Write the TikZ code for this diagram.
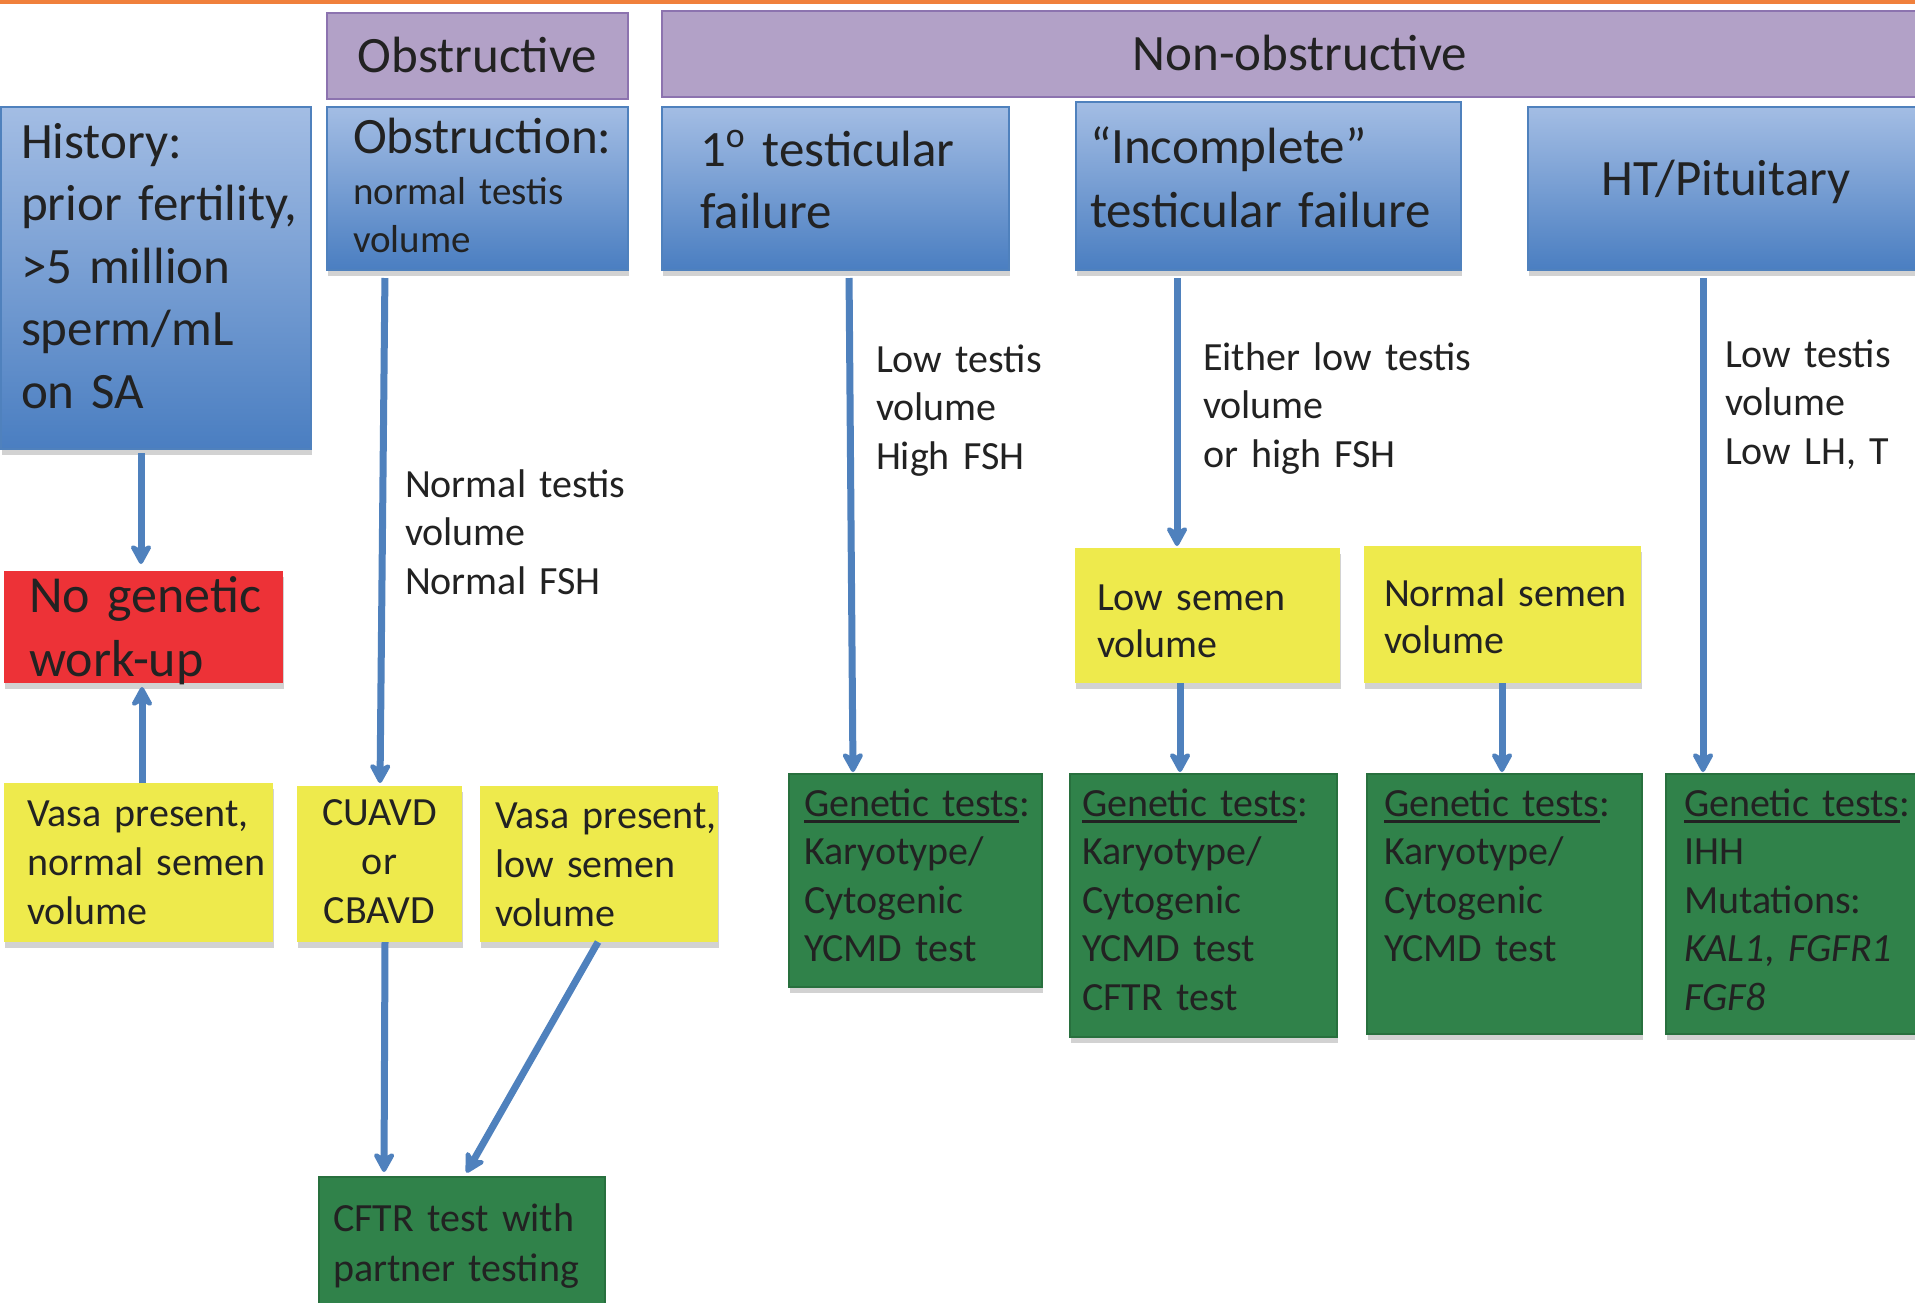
\documentclass[tikz,border=0pt]{standalone}
\usepackage{fontspec}
\setmainfont{Carlito}
\usetikzlibrary{arrows.meta,shadows,calc}
\definecolor{tcol}{RGB}{34,34,34}
\definecolor{purfill}{RGB}{178,161,199}
\definecolor{purdraw}{RGB}{140,115,175}
\definecolor{bluetop}{RGB}{163,189,228}
\definecolor{bluebot}{RGB}{74,126,193}
\definecolor{bluedraw}{RGB}{79,129,189}
\definecolor{yelfill}{RGB}{238,234,76}
\definecolor{redfill}{RGB}{237,50,55}
\definecolor{grnfill}{RGB}{48,130,74}
\definecolor{grndraw}{RGB}{40,112,62}
\definecolor{arrcol}{RGB}{79,129,189}
\definecolor{orangec}{RGB}{240,128,60}
\newcommand\gtul[1]{\setbox0\hbox{#1}\rlap{\rule[-3.5pt]{\wd0}{1.4pt}}\box0}
\tikzset{
  bx/.style={rectangle, anchor=north west, inner sep=0pt, outer sep=0pt},
  shad/.style={drop shadow={shadow xshift=0.6pt, shadow yshift=-3pt, opacity=0.35}},
  purplebox/.style={bx, fill=purfill, draw=purdraw, line width=0.9pt},
  bluebox/.style={bx, shad, draw=bluedraw, line width=0.9pt, top color=bluetop, bottom color=bluebot},
  yelbox/.style={bx, shad, fill=yelfill},
  redbox/.style={bx, shad, fill=redfill},
  grnbox/.style={bx, shad, fill=grnfill, draw=grndraw, line width=0.6pt},
  txt/.style={anchor=base west, inner sep=0pt, outer sep=0pt, text=tcol, align=left, text width=300pt},
  big/.style={font=\fontsize{25.5pt}{31.25pt}\selectfont},
  mid/.style={font=\fontsize{20pt}{24.25pt}\selectfont},
  arr/.style={draw=arrcol, line width=3.5pt, -{Stealth[round, length=12pt, width=13pt, inset=3.5pt]}},
}
\begin{document}
\begin{tikzpicture}[x=0.5pt, y=-0.5pt]
\useasboundingbox (0,0) rectangle (1915,1302);
\clip (0,0) rectangle (1915,1302);
\fill[white] (0,0) rectangle (1915,1302);
\fill[orangec] (0,0) rectangle (1915,4);

% headers
\node[purplebox, minimum width=150.5pt, minimum height=43pt] (obsH) at (327,13) {};
\node[anchor=base, inner sep=0pt, text=tcol, big] (obsHt) at (477.5,72) {Obstructive};
\node[purplebox, minimum width=639pt, minimum height=43pt] (nonH) at (662,11) {};
\node[anchor=base, inner sep=0pt, text=tcol, big] (nonHt) at (1300,70) {Non-obstructive};

% blue boxes
\node[bluebox, minimum width=155pt, minimum height=171pt] (hist) at (1,107) {};
\node[bluebox, minimum width=150.5pt, minimum height=81.5pt] (obst) at (327,107) {};
\node[bluebox, minimum width=173.5pt, minimum height=81.5pt] (prim) at (662,107) {};
\node[bluebox, minimum width=192.5pt, minimum height=84pt] (inc) at (1076,102) {};
\node[bluebox, minimum width=200pt, minimum height=81.5pt] (ht) at (1528,107) {};

\node[txt, big] (histt) at (21,158) {History:\\prior fertility,\\>5 million\\sperm/mL\\on SA};
\node[txt, big] (obstt) at (353,153) {Obstruction:};
\node[txt, font=\fontsize{19.5pt}{24pt}\selectfont] (obstt2) at (353,204) {normal testis\\volume};
\node[txt, font=\fontsize{25.5pt}{31pt}\selectfont] (primt) at (700,166) {1\textsuperscript{o} testicular\\failure};
\node[txt, font=\fontsize{25.5pt}{32pt}\selectfont] (inct) at (1090,163) {“Incomplete”\\testicular failure};
\node[anchor=base, inner sep=0pt, text=tcol, big] (htt) at (1726,195) {HT/Pituitary};

% arrow labels
\node[txt, mid] (lab1) at (405,497) {Normal testis\\volume\\Normal FSH};
\node[txt, mid] (lab2) at (876,372) {Low testis\\volume\\High FSH};
\node[txt, mid] (lab3) at (1203,370) {Either low testis\\volume\\or high FSH};
\node[txt, mid] (lab4) at (1725,367) {Low testis\\volume\\Low LH, T};

% red box
\node[redbox, minimum width=139.5pt, minimum height=56pt] (nogen) at (4,571) {};
\node[txt, font=\fontsize{26pt}{32pt}\selectfont] (nogent) at (29,612) {No genetic\\work-up};

% yellow boxes
\node[yelbox, minimum width=134.5pt, minimum height=79.5pt] (vasaN) at (4,783) {};
\node[yelbox, minimum width=82.5pt, minimum height=78pt] (cuavd) at (297,786) {};
\node[yelbox, minimum width=119pt, minimum height=78pt] (vasaL) at (480,786) {};
\node[yelbox, minimum width=132.5pt, minimum height=67.5pt] (lowsem) at (1075,548) {};
\node[yelbox, minimum width=138.5pt, minimum height=68.5pt] (normsem) at (1364,546) {};

\node[txt, font=\fontsize{20pt}{24.5pt}\selectfont] (vasaNt) at (27,826) {Vasa present,\\normal semen\\volume};
\node[anchor=base, inner sep=0pt, text=tcol, align=center, text width=80pt, font=\fontsize{20pt}{24.5pt}\selectfont] (cuavdt) at (379.5,825) {CUAVD\\or\\CBAVD};
\node[txt, font=\fontsize{20pt}{24.5pt}\selectfont] (vasaLt) at (495,828) {Vasa present,\\low semen\\volume};
\node[txt, font=\fontsize{20pt}{23.5pt}\selectfont] (lowsemt) at (1097,610) {Low semen\\volume};
\node[txt, font=\fontsize{20pt}{23.5pt}\selectfont] (normsemt) at (1384,606) {Normal semen\\volume};

% green boxes
\node[grnbox, minimum width=143pt, minimum height=70pt] (cftr) at (319,1177) {};
\node[grnbox, minimum width=126.5pt, minimum height=106.5pt] (g1) at (789,774) {};
\node[grnbox, minimum width=133.5pt, minimum height=131.5pt] (g2) at (1070,774) {};
\node[grnbox, minimum width=137.5pt, minimum height=130pt] (g3) at (1367,774) {};
\node[grnbox, minimum width=130pt, minimum height=130pt] (g4) at (1666,774) {};

\node[txt, font=\fontsize{20pt}{25pt}\selectfont] (cftrt) at (333,1231) {CFTR test with\\partner testing};
\node[txt, mid] (g1t) at (804,816) {\gtul{Genetic tests}:\\Karyotype/\\Cytogenic\\YCMD test};
\node[txt, mid] (g2t) at (1082,816) {\gtul{Genetic tests}:\\Karyotype/\\Cytogenic\\YCMD test\\CFTR test};
\node[txt, mid] (g3t) at (1384,816) {\gtul{Genetic tests}:\\Karyotype/\\Cytogenic\\YCMD test};
\node[txt, mid] (g4t) at (1684,816) {\gtul{Genetic tests}:\\IHH\\Mutations:\\\textit{KAL1, FGFR1}\\\textit{FGF8}};

% arrows
\draw[arr, shorten <=2pt, shorten >=3.5pt] ($(hist.south west)+(140,0)$) -- ($(nogen.north west)+(137,0)$);
\draw[arr, shorten >=2pt] ($(vasaN.north west)+(138,0)$) -- ($(nogen.south west)+(138,0)$);
\draw[arr, shorten <=4pt, shorten >=1.5pt] ($(obst.south west)+(58,0)$) -- ($(cuavd.north west)+(83,0)$);
\draw[arr, shorten >=2.5pt] ($(cuavd.south west)+(88,0)$) -- ($(cftr.north west)+(65,0)$);
\draw[arr, shorten >=2.5pt] ($(vasaL.south west)+(118,0)$) -- ($(cftr.north west)+(145,0)$);
\draw[arr, shorten <=4pt, shorten >=1pt] ($(prim.south west)+(187,0)$) -- ($(g1.north west)+(64,0)$);
\draw[arr, shorten <=4pt, shorten >=1pt] ($(inc.south west)+(101,0)$) -- ($(lowsem.north west)+(102,0)$);
\draw[arr, shorten >=1pt] ($(lowsem.south west)+(105,0)$) -- ($(g2.north west)+(110,0)$);
\draw[arr, shorten >=1pt] ($(normsem.south west)+(138,0)$) -- ($(g3.north west)+(135,0)$);
\draw[arr, shorten <=4pt, shorten >=1pt] ($(ht.south west)+(175,0)$) -- ($(g4.north west)+(37,0)$);
\end{tikzpicture}
\end{document}
